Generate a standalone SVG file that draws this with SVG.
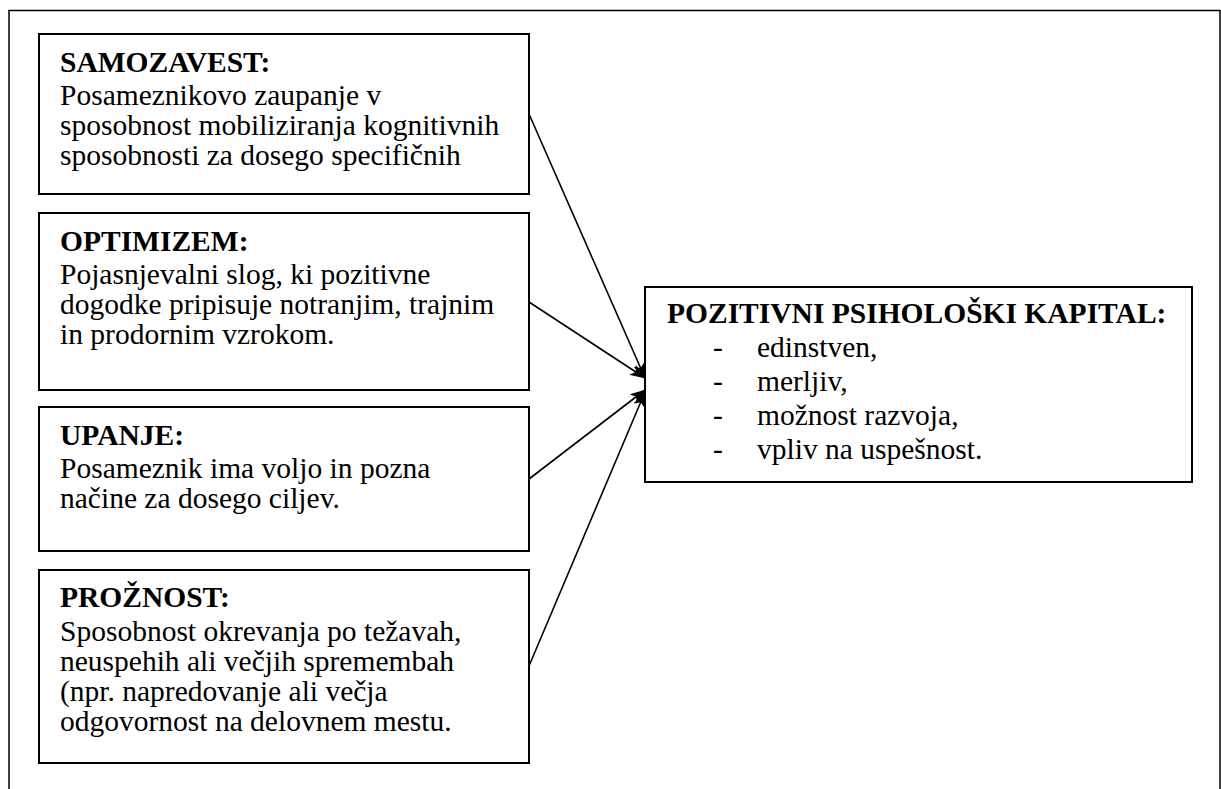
<svg xmlns="http://www.w3.org/2000/svg" width="1221" height="789" viewBox="0 0 1221 789">
<style>
.box{fill:#fff;stroke:#000;stroke-width:2}
.frame{fill:none;stroke:#000;stroke-width:1.5}
.t{font-family:"Liberation Serif","Times New Roman",serif;font-size:29.5px;fill:#000}
.b{font-weight:bold}
.conn{stroke:#000;stroke-width:1.6;fill:none;marker-end:url(#ah)}
</style>
<defs>
<marker id="ah" viewBox="0 0 16 12" refX="15" refY="6" markerWidth="16" markerHeight="12" markerUnits="userSpaceOnUse" orient="auto">
<path d="M0,0 L16,6 L0,12 L4,6 Z" fill="#000"/>
</marker>
</defs>
<rect width="1221" height="789" fill="#fff"/>
<path class="frame" d="M9,800 L9,10.5 L1220,10.5 L1220,800"/>
<g id="n-samozavest">
<rect class="box" x="39" y="34" width="490" height="160"/>
<text class="t b" x="60" y="72">SAMOZAVEST:</text>
<text class="t" x="60" y="105">Posameznikovo zaupanje v</text>
<text class="t" x="60" y="135">sposobnost mobiliziranja kognitivnih</text>
<text class="t" x="60" y="165">sposobnosti za dosego specifičnih</text>
</g>
<g id="n-optimizem">
<rect class="box" x="39" y="213" width="490" height="177"/>
<text class="t b" x="60" y="251">OPTIMIZEM:</text>
<text class="t" x="60" y="284">Pojasnjevalni slog, ki pozitivne</text>
<text class="t" x="60" y="314">dogodke pripisuje notranjim, trajnim</text>
<text class="t" x="60" y="344">in prodornim vzrokom.</text>
</g>
<g id="n-upanje">
<rect class="box" x="39" y="407" width="490" height="144"/>
<text class="t b" x="60" y="445">UPANJE:</text>
<text class="t" x="60" y="478">Posameznik ima voljo in pozna</text>
<text class="t" x="60" y="508">načine za dosego ciljev.</text>
</g>
<g id="n-proznost">
<rect class="box" x="39" y="570" width="490" height="193"/>
<text class="t b" x="60" y="607">PROŽNOST:</text>
<text class="t" x="60" y="641">Sposobnost okrevanja po težavah,</text>
<text class="t" x="60" y="671">neuspehih ali večjih spremembah</text>
<text class="t" x="60" y="701">(npr. napredovanje ali večja</text>
<text class="t" x="60" y="731">odgovornost na delovnem mestu.</text>
</g>
<g id="n-kapital">
<rect class="box" x="645" y="287" width="547" height="195"/>
<text class="t b" x="667" y="323">POZITIVNI PSIHOLOŠKI KAPITAL:</text>
<text class="t" x="713" y="357">-</text><text class="t" x="757" y="357">edinstven,</text>
<text class="t" x="713" y="391">-</text><text class="t" x="757" y="391">merljiv,</text>
<text class="t" x="713" y="425">-</text><text class="t" x="757" y="425">možnost razvoja,</text>
<text class="t" x="713" y="459">-</text><text class="t" x="757" y="459">vpliv na uspešnost.</text>
</g>
<g id="connectors">
<line class="conn" x1="529" y1="114" x2="645" y2="378"/>
<line class="conn" x1="529" y1="302" x2="645" y2="378"/>
<line class="conn" x1="529" y1="479" x2="645" y2="390"/>
<line class="conn" x1="529" y1="666" x2="645" y2="392"/>
</g>
</svg>
